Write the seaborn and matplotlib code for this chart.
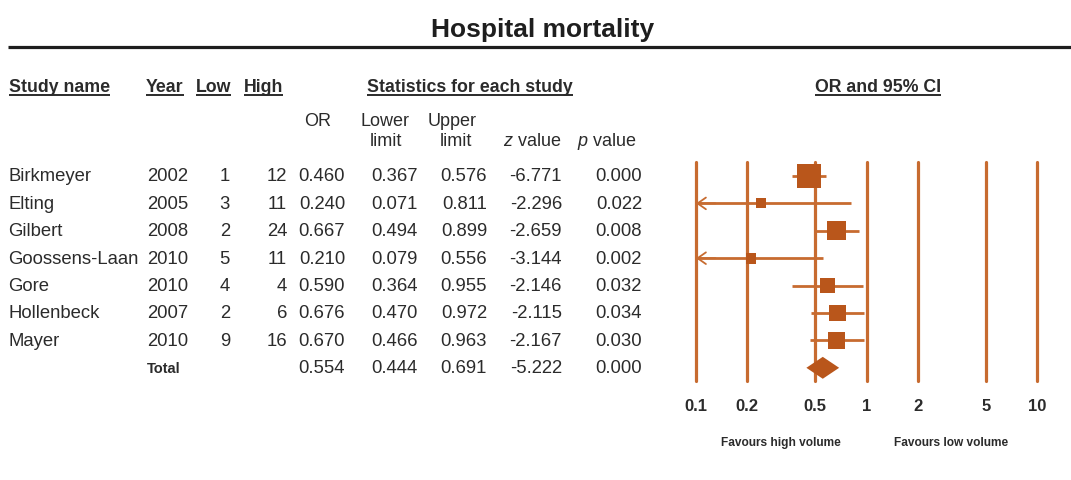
import numpy as np
import pandas as pd
import matplotlib
matplotlib.use("Agg")
import matplotlib.pyplot as plt
from matplotlib.ticker import NullLocator
import seaborn as sns

# ---------------- data ----------------
studies = ["Birkmeyer", "Elting", "Gilbert", "Goossens-Laan", "Gore", "Hollenbeck", "Mayer"]
years = [2002, 2005, 2008, 2010, 2010, 2007, 2010]
low_n = [1, 3, 2, 5, 4, 2, 9]
high_n = [12, 11, 24, 11, 4, 6, 16]
odds = [0.460, 0.240, 0.667, 0.210, 0.590, 0.676, 0.670]
lower = [0.367, 0.071, 0.494, 0.079, 0.364, 0.470, 0.466]
upper = [0.576, 0.811, 0.899, 0.556, 0.955, 0.972, 0.963]
zvals = [-6.771, -2.296, -2.659, -3.144, -2.146, -2.115, -2.167]
pvals = [0.000, 0.022, 0.008, 0.002, 0.032, 0.034, 0.030]
total_or = 0.554
total_lower = 0.444
total_upper = 0.691
total_z = -5.222
total_p = 0.000
axis_ticks = [0.1, 0.2, 0.5, 1, 2, 5, 10]
tick_labels = ["0.1", "0.2", "0.5", "1", "2", "5", "10"]

# ---------------- style ----------------
sns.set_theme(style="white")
plt.rcParams["font.family"] = ["Liberation Sans", "DejaVu Sans"]
plt.rcParams["mathtext.fontset"] = "custom"
plt.rcParams["mathtext.rm"] = "Liberation Sans"
plt.rcParams["mathtext.it"] = "Liberation Sans:italic"

TXT = "#2b2b2b"
LINE = "#C76B30"
MARK = "#B9561B"

W, H = 1071, 481
fig = plt.figure(figsize=(W / 100, H / 100), dpi=100)
fig.patch.set_facecolor("white")
ax0 = fig.add_axes([0, 0, 1, 1])
ax0.set_xlim(0, W)
ax0.set_ylim(H, 0)
ax0.axis("off")

# title + rule
ax0.text(543, 30, "Hospital mortality", ha="center", va="center",
         fontsize=19, fontweight="bold", color="#1e1e1e")
ax0.plot([8, W], [47.7, 47.7], color="#1e1e1e", lw=2.3, solid_capstyle="butt")

# headers (underlined)
hdr_kw = dict(va="center", fontsize=12.8, fontweight="bold", color=TXT)
underlined = [
    ax0.text(9, 87, "Study name", ha="left", **hdr_kw),
    ax0.text(146, 87, "Year", ha="left", **hdr_kw),
    ax0.text(196, 87, "Low", ha="left", **hdr_kw),
    ax0.text(244, 87, "High", ha="left", **hdr_kw),
    ax0.text(470, 87, "Statistics for each study", ha="center", **hdr_kw),
    ax0.text(878, 87, "OR and 95% CI", ha="center", **hdr_kw),
]

sub_kw = dict(va="center", fontsize=13, color=TXT)
ax0.text(331, 122, "OR", ha="right", **sub_kw)
ax0.text(385, 122, "Lower", ha="center", **sub_kw)
ax0.text(386, 142, "limit", ha="center", **sub_kw)
ax0.text(452, 122, "Upper", ha="center", **sub_kw)
ax0.text(456, 142, "limit", ha="center", **sub_kw)
ax0.text(561, 142, r"$\it{z}$ value", ha="right", **sub_kw)
ax0.text(637, 142, r"$\it{p}$ value", ha="right", **sub_kw)

# table rows
ROW0, DY = 177, 27.4
row_kw = dict(va="center", fontsize=13.3, color=TXT)
for i, name in enumerate(studies):
    y = ROW0 + DY * i
    ax0.text(8, y, name, ha="left", **row_kw)
    ax0.text(147, y, str(years[i]), ha="left", **row_kw)
    ax0.text(230, y, str(low_n[i]), ha="right", **row_kw)
    ax0.text(287, y, str(high_n[i]), ha="right", **row_kw)
    ax0.text(345, y, f"{odds[i]:.3f}", ha="right", **row_kw)
    ax0.text(418, y, f"{lower[i]:.3f}", ha="right", **row_kw)
    ax0.text(487, y, f"{upper[i]:.3f}", ha="right", **row_kw)
    ax0.text(562, y, f"{zvals[i]:.3f}", ha="right", **row_kw)
    ax0.text(642, y, f"{pvals[i]:.3f}", ha="right", **row_kw)

yt = ROW0 + DY * len(studies)
ax0.text(147, yt, "Total", ha="left", va="center", fontsize=10.5,
         fontweight="bold", color=TXT)
ax0.text(345, yt, f"{total_or:.3f}", ha="right", **row_kw)
ax0.text(418, yt, f"{total_lower:.3f}", ha="right", **row_kw)
ax0.text(487, yt, f"{total_upper:.3f}", ha="right", **row_kw)
ax0.text(562, yt, f"{total_z:.3f}", ha="right", **row_kw)
ax0.text(642, yt, f"{total_p:.3f}", ha="right", **row_kw)

# favours labels
ax0.text(781, 443, "Favours high volume", ha="center", va="center",
         fontsize=8.6, fontweight="bold", color=TXT)
ax0.text(951, 443, "Favours low volume", ha="center", va="center",
         fontsize=8.6, fontweight="bold", color=TXT)

# ---------------- forest plot ----------------
x0, x1, ytop, ybot = 696, 1037, 163, 382
axf = fig.add_axes([x0 / W, 1 - ybot / H, (x1 - x0) / W, (ybot - ytop) / H])
axf.patch.set_alpha(0)

rows = np.arange(len(studies))
lo_a, up_a, or_a = np.array(lower), np.array(upper), np.array(odds)
se = (np.log(up_a) - np.log(lo_a)) / 3.92
weight = 1.0 / se ** 2
side_px = 7.1 + 1.83 * np.sqrt(weight)
area = (side_px * 0.72) ** 2

for t in axis_ticks:
    axf.axvline(t, color=LINE, lw=2.3, zorder=1, clip_on=False)

for i in rows:
    if lo_a[i] < axis_ticks[0]:
        axf.plot([axis_ticks[0], up_a[i]], [i, i], color=LINE, lw=2.0, zorder=2,
                 solid_capstyle="butt")
        axf.annotate("", xy=(axis_ticks[0], i), xytext=(axis_ticks[0] * 1.3, i),
                     arrowprops=dict(arrowstyle="->,head_length=0.5,head_width=0.35",
                                     color=LINE, lw=1.3, mutation_scale=12,
                                     shrinkA=0, shrinkB=0),
                     zorder=2, annotation_clip=False)
    else:
        axf.plot([lo_a[i], up_a[i]], [i, i], color=LINE, lw=2.0, zorder=2,
                 solid_capstyle="butt")

df = pd.DataFrame({"OR": or_a, "row": rows, "area": area})
sns.scatterplot(data=df, x="OR", y="row", size="area",
                sizes=(area.min(), area.max()), size_norm=(area.min(), area.max()),
                marker="s", color=MARK, linewidth=0, legend=False, ax=axf,
                zorder=3, clip_on=False)

tr = len(studies)
axf.fill([total_lower, total_or, total_upper, total_or],
         [tr, tr - 0.4, tr, tr + 0.4], color=MARK, lw=0, zorder=3, clip_on=False)

axf.set_xscale("log")
axf.set_xlim(axis_ticks[0], axis_ticks[-1])
axf.set_ylim((ybot - ROW0) / DY, (ytop - ROW0) / DY)
axf.set_xticks(axis_ticks)
axf.set_xticklabels(tick_labels)
axf.xaxis.set_minor_locator(NullLocator())
axf.set_yticks([])
axf.set_xlabel("")
axf.set_ylabel("")
axf.tick_params(axis="x", length=0, pad=12, labelsize=12, labelcolor=TXT)
for lbl in axf.get_xticklabels():
    lbl.set_fontweight("bold")
for s in axf.spines.values():
    s.set_visible(False)

# underline headers using measured text extents
fig.canvas.draw()
renderer = fig.canvas.get_renderer()
inv = ax0.transData.inverted()
for t in underlined:
    bb = t.get_window_extent(renderer)
    (xa, ya), (xb, yb) = inv.transform([[bb.x0, bb.y0], [bb.x1, bb.y1]])
    yline = max(ya, yb) + 0.5
    ax0.plot([xa, xb], [yline, yline], color=TXT, lw=1.4, solid_capstyle="butt")

fig.savefig("out.png", dpi=100, facecolor="white")
